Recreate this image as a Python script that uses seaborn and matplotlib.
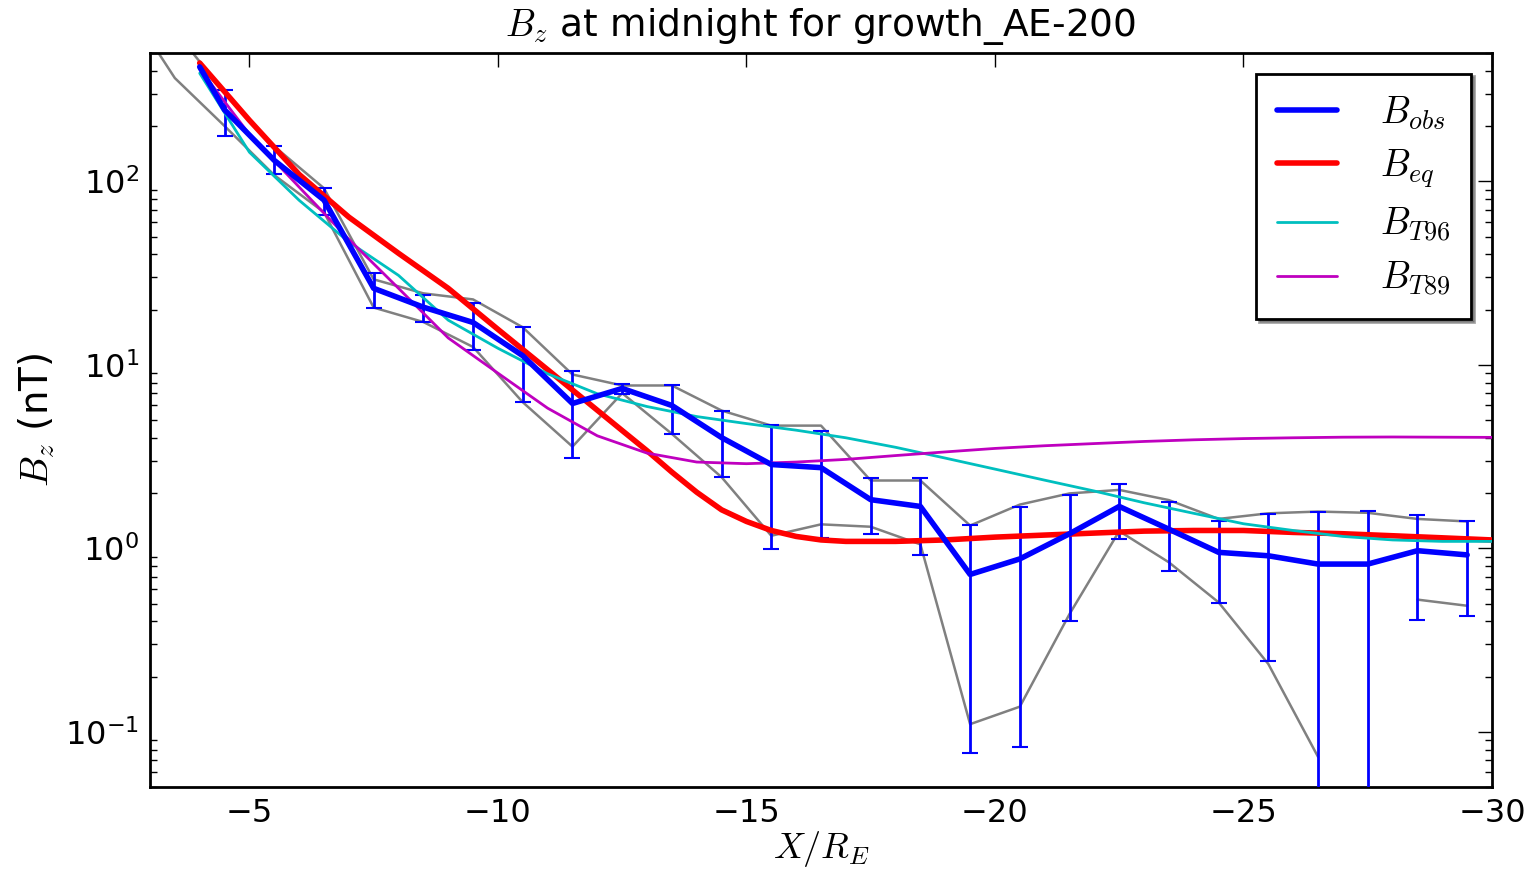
import numpy as np
import pandas as pd
import matplotlib
matplotlib.use("Agg")
import matplotlib.pyplot as plt
import seaborn as sns

# ---------------- data ----------------
# observed Bz (mean) with error bar ends
x_obs = [-4.0, -4.5, -5.5, -6.5, -7.5, -8.5, -9.5, -10.5, -11.5, -12.5, -13.5, -14.5,
         -15.5, -16.5, -17.5, -18.5, -19.5, -20.5, -21.5, -22.5, -23.5, -24.5,
         -25.5, -26.5, -27.5, -28.5, -29.5]
b_obs = [420, 245, 130, 79, 26.1, 20.6, 17.0, 11.2, 6.15, 7.43, 6.0, 4.01,
         2.86, 2.75, 1.84, 1.69, 0.72, 0.875, 1.2, 1.69, 1.27, 0.95,
         0.91, 0.82, 0.82, 0.97, 0.92]

x_err = [-4.5, -5.5, -6.5, -7.5, -8.5, -9.5, -10.5, -11.5, -12.5, -13.5, -14.5,
         -15.5, -16.5, -17.5, -18.5, -19.5, -20.5, -21.5, -22.5, -23.5, -24.5,
         -25.5, -26.5, -27.5, -28.5, -29.5]
err_top = [313, 155, 91.6, 31.5, 23.9, 21.6, 16.0, 9.19, 7.81, 7.71, 5.63,
           4.72, 4.38, 2.43, 2.43, 1.345, 1.67, 1.96, 2.24, 1.78, 1.40,
           1.54, 1.57, 1.60, 1.52, 1.40]
err_bot = [176, 109, 65.2, 20.3, 17.0, 12.1, 6.23, 3.12, 6.97, 4.22, 2.46,
           0.995, 1.14, 1.19, 0.923, 0.077, 0.083, 0.403, 1.12, 0.755, 0.503,
           0.244, 0.01, 0.01, 0.406, 0.428]

# grey envelope lines
x_grey = [-2.5, -3.5, -4.5, -5.5, -6.5, -7.5, -8.5, -9.5, -10.5, -11.5, -12.5,
          -13.5, -14.5, -15.5, -16.5, -17.5, -18.5, -19.5, -20.5, -21.5, -22.5,
          -23.5, -24.5, -25.5, -26.5, -27.5, -28.5, -29.5]
grey_upper = [1500, 660, 305, 155, 91.6, 29.2, 24.5, 22.7, 16.0, 8.85, 7.71,
              7.71, 5.63, 4.66, 4.66, 2.34, 2.34, 1.33, 1.73, 1.99, 2.08,
              1.83, 1.445, 1.55, 1.585, 1.56, 1.445, 1.40]
grey_lower = [950, 365, 200, 108, 67.8, 20.5, 17.1, 12.5, 6.25, 3.58, 7.0,
              4.2, 2.44, 1.17, 1.35, 1.31, 1.05, 0.11, 0.137, 0.438, 1.24,
              0.838, 0.507, 0.234, 0.073, np.nan, 0.525, 0.486]

# equilibrium model curve
x_eq = [-4, -5, -6, -7, -8, -9, -10, -11, -12, -12.5, -13, -13.5, -14, -14.5,
        -15, -15.5, -16, -16.5, -17, -18, -19, -20, -21, -22, -23, -24, -25,
        -26, -27, -28, -29, -30]
b_eq = [441, 215, 109, 63.8, 40.5, 26.1, 15.6, 9.4, 5.65, 4.38, 3.4, 2.6,
        2.02, 1.62, 1.40, 1.25, 1.16, 1.11, 1.09, 1.09, 1.11, 1.15, 1.18,
        1.21, 1.24, 1.25, 1.25, 1.22, 1.20, 1.17, 1.14, 1.11]

# Tsyganenko model curves
x_model = [-4, -5, -6, -7, -8, -9, -10, -11, -12, -13, -14, -15, -16, -17,
           -18, -19, -20, -21, -22, -23, -24, -25, -26, -27, -28, -29, -30]
b_t96 = [388, 144, 78.8, 46.7, 30.7, 17.5, 12.3, 8.93, 6.95, 5.92, 5.22, 4.78,
         4.40, 4.0, 3.55, 3.1, 2.7, 2.35, 2.05, 1.77, 1.55, 1.36, 1.25, 1.16,
         1.11, 1.09, 1.09]
b_t89 = [410, 180, 93, 48.3, 26.1, 14.0, 9.0, 5.8, 4.1, 3.3, 2.95, 2.89,
         2.95, 3.05, 3.2, 3.35, 3.5, 3.62, 3.72, 3.82, 3.9, 3.96, 4.0, 4.03,
         4.04, 4.03, 4.02]

# ---------------- style ----------------
sns.set_style("white")
plt.rcParams["font.family"] = ["DejaVu Sans"]
plt.rcParams["mathtext.fontset"] = "cm"
for k in ["text.color", "axes.labelcolor", "xtick.color", "ytick.color"]:
    plt.rcParams[k] = "black"

fig = plt.figure(figsize=(15.32, 8.73), dpi=100)
ax = fig.add_axes([150 / 1532, 1 - 787 / 873, (1492 - 150) / 1532, (787 - 53) / 873])

df_obs = pd.DataFrame({"x": x_obs, "B": b_obs})
df_eq = pd.DataFrame({"x": x_eq, "eq": b_eq})
df_mod = pd.DataFrame({"x": x_model, "t96": b_t96, "t89": b_t89})

# grey envelopes
ax.plot(x_grey, grey_upper, color="#808080", lw=1.8, zorder=2)
ax.plot(x_grey, grey_lower, color="#808080", lw=1.8, zorder=2)

# error bars
xe = np.array(x_err)
mid = np.array(b_obs[1:])
yerr = np.vstack([mid - np.array(err_bot), np.array(err_top) - mid])
ax.errorbar(xe, mid, yerr=yerr, fmt="none", ecolor="blue", elinewidth=2,
            capsize=5.5, capthick=1.5, zorder=3)

sns.lineplot(data=df_obs, x="x", y="B", ax=ax, color="blue", lw=4,
             label="$B_{obs}$", sort=False, estimator=None, zorder=5)
sns.lineplot(data=df_eq, x="x", y="eq", ax=ax, color="red", lw=4,
             label="$B_{eq}$", sort=False, estimator=None, zorder=4)
sns.lineplot(data=df_mod, x="x", y="t96", ax=ax, color="#00BFBF", lw=2,
             label="$B_{T96}$", sort=False, estimator=None, zorder=4)
sns.lineplot(data=df_mod, x="x", y="t89", ax=ax, color="#BF00BF", lw=2,
             label="$B_{T89}$", sort=False, estimator=None, zorder=4)

ax.set_yscale("log")
ax.set_xlim(-3, -30)
ax.set_ylim(0.05, 500)
ax.set_xticks([-5, -10, -15, -20, -25, -30])
ax.set_xticklabels(["\u22125", "\u221210", "\u221215", "\u221220", "\u221225", "\u221230"])

ax.tick_params(axis="both", which="major", direction="in", length=10, width=1,
               top=True, right=True, labelsize=23, pad=8, colors="black")
ax.tick_params(axis="y", which="minor", direction="in", length=5, width=1,
               left=True, right=True)
for s in ax.spines.values():
    s.set_linewidth(2)
    s.set_color("black")

ax.set_xlabel("$X/R_E$", fontsize=26, labelpad=0)
ax.set_ylabel("$B_z$ (nT)", fontsize=28, labelpad=6)
ax.set_title("$B_z$ at midnight for growth_AE-200", fontsize=27, pad=12)

leg = ax.legend(loc="upper right", fontsize=27, frameon=True, fancybox=False,
                shadow=True, handlelength=1.6, borderpad=0.55, labelspacing=0.42,
                handletextpad=1.15, borderaxespad=0.55)
leg.get_frame().set_edgecolor("black")
leg.get_frame().set_linewidth(2)

fig.savefig("out.png", dpi=100)
